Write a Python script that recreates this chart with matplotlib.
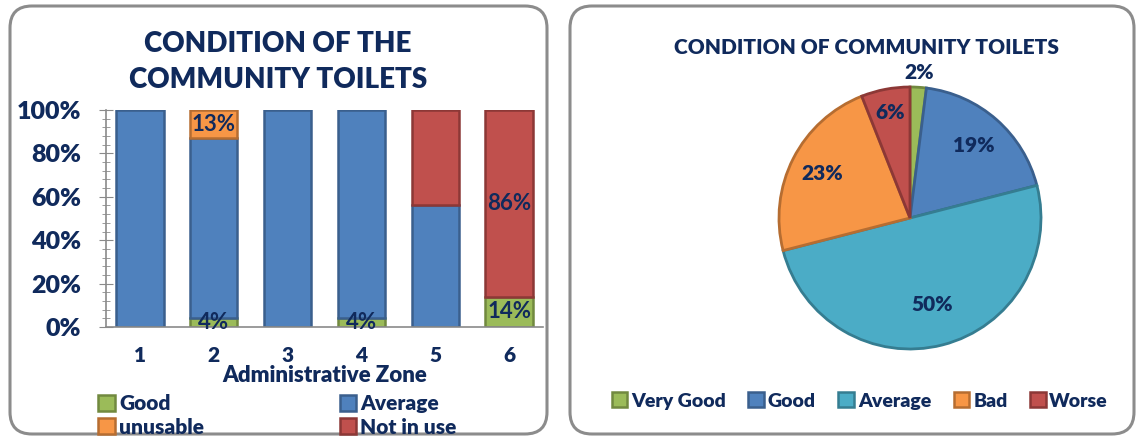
import matplotlib
matplotlib.use("Agg")
import matplotlib.pyplot as plt
from matplotlib.patches import FancyBboxPatch, Patch
from matplotlib.ticker import MultipleLocator, PercentFormatter
import numpy as np

# bar chart: share of toilets per condition in each administrative zone (%)
zones = ["1", "2", "3", "4", "5", "6"]
good = [0, 4, 0, 4, 0, 14]
average = [100, 83, 100, 96, 56, 0]
unusable = [0, 13, 0, 0, 0, 0]
not_in_use = [0, 0, 0, 0, 44, 86]

# pie chart: overall condition (%)
pie_labels = ["Very Good", "Good", "Average", "Bad", "Worse"]
pie_values = [2, 19, 50, 23, 6]

NAVY = "#102a5c"
FONT = "Lato"
WEIGHT = "heavy"
plt.rcParams["font.family"] = [FONT, "DejaVu Sans"]

fills = {"green": "#9bbb59", "blue": "#4f81bd", "orange": "#f79646",
         "red": "#c0504d", "teal": "#4bacc6"}
edges = {"green": "#71893f", "blue": "#3a5f8d", "orange": "#b66d31",
         "red": "#8c3836", "teal": "#357d91"}

W, H = 1137, 436
fig = plt.figure(figsize=(W / 100, H / 100), dpi=100)

# rounded panel frames (inches)
for x0, x1 in [(0.10, 5.47), (5.70, 11.34)]:
    frame = FancyBboxPatch((x0, 0.02), x1 - x0, 4.28,
                           boxstyle="round,pad=0,rounding_size=0.22",
                           transform=fig.dpi_scale_trans, fill=False,
                           ec="#8c8c8c", lw=2.2)
    fig.add_artist(frame)

# ---- stacked bars ----
ax = fig.add_axes([106 / W, (H - 327) / H, 437 / W, 217 / H])
x = np.arange(1, len(zones) + 1)
series = [("Good", good, "green"), ("Average", average, "blue"),
          ("unusable", unusable, "orange"), ("Not in use", not_in_use, "red")]
labelled = {"Good": [2, 4, 6], "unusable": [2], "Not in use": [6]}

bottom = np.zeros(len(zones))
handles = {}
for name, vals, c in series:
    vals = np.array(vals, dtype=float)
    nz = vals > 0
    ax.bar(x[nz], vals[nz], 0.64, bottom=bottom[nz], color=fills[c],
           edgecolor=edges[c], linewidth=1.8, zorder=2)
    for z in labelled.get(name, []):
        i = z - 1
        ax.text(x[i], bottom[i] + vals[i] / 2, f"{vals[i]:.0f}%", ha="center",
                va="center", color=NAVY, fontsize=16, fontweight="bold", zorder=3)
    handles[name] = Patch(fc=fills[c], ec=edges[c], lw=1.8, label=name)
    bottom += vals

ax.set_xlim(0.54, 6.46)
ax.set_ylim(0, 100)
ax.set_xticks(x, zones)
ax.yaxis.set_major_locator(MultipleLocator(20))
ax.yaxis.set_minor_locator(MultipleLocator(4))
ax.yaxis.set_major_formatter(PercentFormatter(decimals=0))
for s in ["top", "right"]:
    ax.spines[s].set_visible(False)
for s in ["left", "bottom"]:
    ax.spines[s].set_color("#8a8a8a")
    ax.spines[s].set_linewidth(1.2)
ax.tick_params(axis="y", which="major", direction="inout", length=10,
               color="#8a8a8a", pad=13, labelsize=18, labelcolor=NAVY)
ax.tick_params(axis="y", which="minor", direction="inout", length=6,
               color="#8a8a8a")
ax.tick_params(axis="x", length=0, pad=14, labelsize=15, labelcolor=NAVY)
for lbl in ax.get_xticklabels() + ax.get_yticklabels():
    lbl.set_fontweight(WEIGHT)
ax.set_xlabel("Administrative Zone", fontsize=16, fontweight=WEIGHT,
              color=NAVY, labelpad=0)

fig.text(278 / W, 1 - 44 / H, "CONDITION OF THE", ha="center", va="center",
         fontsize=20, fontweight=WEIGHT, color=NAVY)
fig.text(278 / W, 1 - 80 / H, "COMMUNITY TOILETS", ha="center", va="center",
         fontsize=20, fontweight=WEIGHT, color=NAVY)

leg1 = fig.legend(handles=[handles["Good"], handles["unusable"],
                           handles["Average"], handles["Not in use"]],
                  ncol=2, loc="upper left", bbox_to_anchor=(88 / W, 1 - 384 / H),
                  frameon=False, borderpad=0, handlelength=0.8, handleheight=0.8,
                  handletextpad=0.2, columnspacing=6.5, labelspacing=0.2,
                  prop={"family": FONT, "weight": WEIGHT, "size": 15})
for t in leg1.get_texts():
    t.set_color(NAVY)

# ---- pie ----
cx, cy, r = 910, 218, 131
pax = fig.add_axes([(cx - r) / W, (H - cy - r) / H, 2 * r / W, 2 * r / H])
pie_keys = ["green", "blue", "teal", "orange", "red"]
wedges, _ = pax.pie(pie_values, colors=[fills[k] for k in pie_keys],
                    startangle=90, counterclock=False, radius=1,
                    wedgeprops={"linewidth": 2.0})
for w, k in zip(wedges, pie_keys):
    w.set_edgecolor(edges[k])
pax.set_xlim(-1, 1)
pax.set_ylim(-1, 1)
pax.set_aspect("equal")
pax.axis("off")

label_dist = [1.11, 0.74, 0.68, 0.75, 0.82]
for w, v, d in zip(wedges, pie_values, label_dist):
    ang = np.deg2rad((w.theta1 + w.theta2) / 2)
    pax.text(d * np.cos(ang), d * np.sin(ang), f"{v}%", ha="center",
             va="center", color=NAVY, fontsize=15, fontweight=WEIGHT)

fig.text(866 / W, 1 - 48 / H, "CONDITION OF COMMUNITY TOILETS", ha="center",
         va="center", fontsize=15, fontweight=WEIGHT, color=NAVY)

pie_handles = [Patch(fc=fills[k], ec=edges[k], lw=1.8, label=l)
               for k, l in zip(pie_keys, pie_labels)]
leg2 = fig.legend(handles=pie_handles, ncol=5, loc="center left",
                  bbox_to_anchor=(602 / W, 1 - 401 / H), frameon=False,
                  borderpad=0, handlelength=0.8, handleheight=0.8,
                  handletextpad=0.2, columnspacing=1.16,
                  prop={"family": FONT, "weight": WEIGHT, "size": 14})
for t in leg2.get_texts():
    t.set_color(NAVY)

fig.savefig("out.png", dpi=100)
